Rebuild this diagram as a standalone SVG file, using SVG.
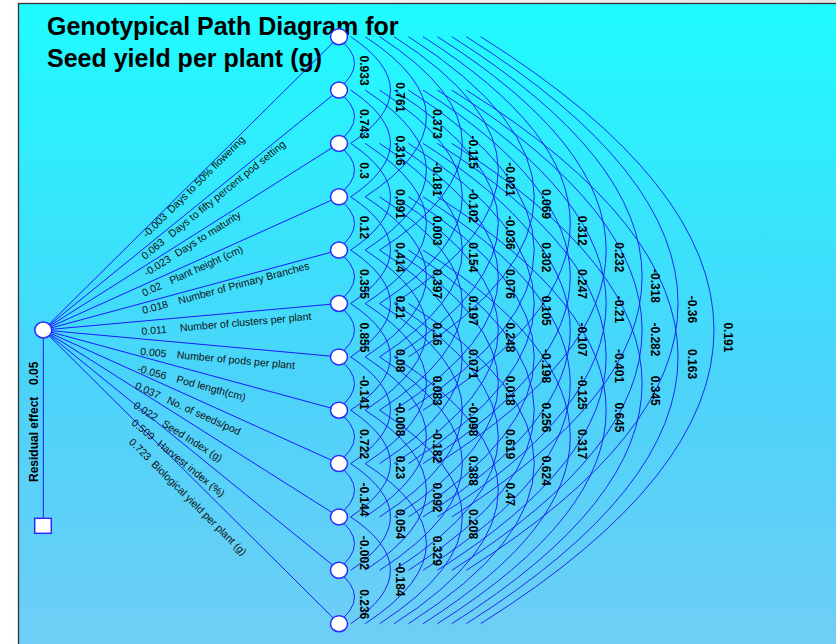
<svg xmlns="http://www.w3.org/2000/svg" width="836" height="644" viewBox="0 0 836 644">
<defs>
<linearGradient id="bg" x1="0" y1="0" x2="0" y2="1">
<stop offset="0" stop-color="#1EFCFF"/>
<stop offset="0.58" stop-color="#4BD3FA"/>
<stop offset="1" stop-color="#70CEF5"/>
</linearGradient>
<linearGradient id="sh" x1="0" y1="0" x2="1" y2="0">
<stop offset="0" stop-color="#ffffff"/>
<stop offset="1" stop-color="#e4e4e4"/>
</linearGradient>
<style>
.ln{fill:none;stroke:#1a1aff;stroke-width:1}
.arc{fill:none;stroke:#1414f0;stroke-width:0.9}
.nd{fill:#fff;stroke:#2a2aff;stroke-width:1.5}
.ttl{font-family:"Liberation Sans",Arial,sans-serif;font-size:25px;font-weight:bold;fill:#000}
.ev{font-family:"Liberation Sans",Arial,sans-serif;font-size:12px;font-weight:bold;fill:#000}
.pl{font-family:"Liberation Sans",Arial,sans-serif;font-size:10.5px;fill:#111}
.res{font-family:"Liberation Sans",Arial,sans-serif;font-size:12px;font-weight:bold;fill:#000}
</style>
</defs>
<rect x="0" y="0" width="836" height="644" fill="url(#sh)"/>
<rect x="18.5" y="3.5" width="830" height="650" fill="url(#bg)" stroke="#333" stroke-width="1.3"/>
<g id="title">
<text class="ttl" x="47" y="35">Genotypical Path Diagram for</text>
<text class="ttl" x="47" y="66.7">Seed yield per plant (g)</text>
</g>
<g id="connectors">
<path class="ln" d="M43.3 330V518"/>
<path class="ln" d="M43.3 330L339 36.7"/>
<path class="ln" d="M43.3 330L339 90.1"/>
<path class="ln" d="M43.3 330L339 143.4"/>
<path class="ln" d="M43.3 330L339 196.8"/>
<path class="ln" d="M43.3 330L339 250.1"/>
<path class="ln" d="M43.3 330L339 303.5"/>
<path class="ln" d="M43.3 330L339 356.9"/>
<path class="ln" d="M43.3 330L339 410.2"/>
<path class="ln" d="M43.3 330L339 463.6"/>
<path class="ln" d="M43.3 330L339 516.9"/>
<path class="ln" d="M43.3 330L339 570.3"/>
<path class="ln" d="M43.3 330L339 623.7"/>
<path class="arc" d="M336.3 36.7Q372.7 63.4 336.3 90.1"/>
<path class="arc" d="M336.3 90.1Q372.7 116.7 336.3 143.4"/>
<path class="arc" d="M336.3 143.4Q372.7 170.1 336.3 196.8"/>
<path class="arc" d="M336.3 196.8Q372.7 223.5 336.3 250.1"/>
<path class="arc" d="M336.3 250.1Q372.7 276.8 336.3 303.5"/>
<path class="arc" d="M336.3 303.5Q372.7 330.2 336.3 356.9"/>
<path class="arc" d="M336.3 356.9Q372.7 383.5 336.3 410.2"/>
<path class="arc" d="M336.3 410.2Q372.7 436.9 336.3 463.6"/>
<path class="arc" d="M336.3 463.6Q372.7 490.3 336.3 516.9"/>
<path class="arc" d="M336.3 516.9Q372.7 543.6 336.3 570.3"/>
<path class="arc" d="M336.3 570.3Q372.7 597 336.3 623.7"/>
<path class="arc" d="M350.7 36.7Q430.2 90.1 350.7 143.4"/>
<path class="arc" d="M350.7 90.1Q430.2 143.4 350.7 196.8"/>
<path class="arc" d="M350.7 143.4Q430.2 196.8 350.7 250.1"/>
<path class="arc" d="M350.7 196.8Q430.2 250.1 350.7 303.5"/>
<path class="arc" d="M350.7 250.1Q430.2 303.5 350.7 356.9"/>
<path class="arc" d="M350.7 303.5Q430.2 356.9 350.7 410.2"/>
<path class="arc" d="M350.7 356.9Q430.2 410.2 350.7 463.6"/>
<path class="arc" d="M350.7 410.2Q430.2 463.6 350.7 516.9"/>
<path class="arc" d="M350.7 463.6Q430.2 516.9 350.7 570.3"/>
<path class="arc" d="M350.7 516.9Q430.2 570.3 350.7 623.7"/>
<path class="arc" d="M365.2 36.7Q487.6 116.7 365.2 196.8"/>
<path class="arc" d="M365.2 90.1Q487.6 170.1 365.2 250.1"/>
<path class="arc" d="M365.2 143.4Q487.6 223.5 365.2 303.5"/>
<path class="arc" d="M365.2 196.8Q487.6 276.8 365.2 356.9"/>
<path class="arc" d="M365.2 250.1Q487.6 330.2 365.2 410.2"/>
<path class="arc" d="M365.2 303.5Q487.6 383.5 365.2 463.6"/>
<path class="arc" d="M365.2 356.9Q487.6 436.9 365.2 516.9"/>
<path class="arc" d="M365.2 410.2Q487.6 490.3 365.2 570.3"/>
<path class="arc" d="M365.2 463.6Q487.6 543.6 365.2 623.7"/>
<path class="arc" d="M379.6 36.7Q545.1 143.4 379.6 250.1"/>
<path class="arc" d="M379.6 90.1Q545.1 196.8 379.6 303.5"/>
<path class="arc" d="M379.6 143.4Q545.1 250.1 379.6 356.9"/>
<path class="arc" d="M379.6 196.8Q545.1 303.5 379.6 410.2"/>
<path class="arc" d="M379.6 250.1Q545.1 356.9 379.6 463.6"/>
<path class="arc" d="M379.6 303.5Q545.1 410.2 379.6 516.9"/>
<path class="arc" d="M379.6 356.9Q545.1 463.6 379.6 570.3"/>
<path class="arc" d="M379.6 410.2Q545.1 516.9 379.6 623.7"/>
<path class="arc" d="M394.1 36.7Q602.5 170.1 394.1 303.5"/>
<path class="arc" d="M394.1 90.1Q602.5 223.5 394.1 356.9"/>
<path class="arc" d="M394.1 143.4Q602.5 276.8 394.1 410.2"/>
<path class="arc" d="M394.1 196.8Q602.5 330.2 394.1 463.6"/>
<path class="arc" d="M394.1 250.1Q602.5 383.5 394.1 516.9"/>
<path class="arc" d="M394.1 303.5Q602.5 436.9 394.1 570.3"/>
<path class="arc" d="M394.1 356.9Q602.5 490.3 394.1 623.7"/>
<path class="arc" d="M408.5 36.7Q660 196.8 408.5 356.9"/>
<path class="arc" d="M408.5 90.1Q660 250.1 408.5 410.2"/>
<path class="arc" d="M408.5 143.4Q660 303.5 408.5 463.6"/>
<path class="arc" d="M408.5 196.8Q660 356.9 408.5 516.9"/>
<path class="arc" d="M408.5 250.1Q660 410.2 408.5 570.3"/>
<path class="arc" d="M408.5 303.5Q660 463.6 408.5 623.7"/>
<path class="arc" d="M423 36.7Q717.5 223.5 423 410.2"/>
<path class="arc" d="M423 90.1Q717.5 276.8 423 463.6"/>
<path class="arc" d="M423 143.4Q717.5 330.2 423 516.9"/>
<path class="arc" d="M423 196.8Q717.5 383.5 423 570.3"/>
<path class="arc" d="M423 250.1Q717.5 436.9 423 623.7"/>
<path class="arc" d="M437.4 36.7Q774.9 250.1 437.4 463.6"/>
<path class="arc" d="M437.4 90.1Q774.9 303.5 437.4 516.9"/>
<path class="arc" d="M437.4 143.4Q774.9 356.9 437.4 570.3"/>
<path class="arc" d="M437.4 196.8Q774.9 410.2 437.4 623.7"/>
<path class="arc" d="M451.8 36.7Q832.4 276.8 451.8 516.9"/>
<path class="arc" d="M451.8 90.1Q832.4 330.2 451.8 570.3"/>
<path class="arc" d="M451.8 143.4Q832.4 383.5 451.8 623.7"/>
<path class="arc" d="M466.3 36.7Q889.8 303.5 466.3 570.3"/>
<path class="arc" d="M466.3 90.1Q889.8 356.9 466.3 623.7"/>
<path class="arc" d="M480.7 36.7Q947.3 330.2 480.7 623.7"/>
</g>
<g id="residual">
<rect x="34.7" y="518.3" width="16.6" height="15" class="nd"/>
<text class="res" transform="translate(38,482) rotate(-90)">Residual effect</text>
<text class="res" transform="translate(38,385) rotate(-90)">0.05</text>
</g>
<g id="node-center"><ellipse class="nd" cx="43.3" cy="330" rx="8.5" ry="8"/></g>
<g id="node-0"><ellipse class="nd" cx="339" cy="36.7" rx="8.5" ry="8"/></g>
<g id="node-1"><ellipse class="nd" cx="339" cy="90.1" rx="8.5" ry="8"/></g>
<g id="node-2"><ellipse class="nd" cx="339" cy="143.4" rx="8.5" ry="8"/></g>
<g id="node-3"><ellipse class="nd" cx="339" cy="196.8" rx="8.5" ry="8"/></g>
<g id="node-4"><ellipse class="nd" cx="339" cy="250.1" rx="8.5" ry="8"/></g>
<g id="node-5"><ellipse class="nd" cx="339" cy="303.5" rx="8.5" ry="8"/></g>
<g id="node-6"><ellipse class="nd" cx="339" cy="356.9" rx="8.5" ry="8"/></g>
<g id="node-7"><ellipse class="nd" cx="339" cy="410.2" rx="8.5" ry="8"/></g>
<g id="node-8"><ellipse class="nd" cx="339" cy="463.6" rx="8.5" ry="8"/></g>
<g id="node-9"><ellipse class="nd" cx="339" cy="516.9" rx="8.5" ry="8"/></g>
<g id="node-10"><ellipse class="nd" cx="339" cy="570.3" rx="8.5" ry="8"/></g>
<g id="node-11"><ellipse class="nd" cx="339" cy="623.7" rx="8.5" ry="8"/></g>
<g id="path-labels" class="pl">
<g transform="translate(146.7,238.3) rotate(-44.77)"><text class="pl">-0.003</text><text class="pl" x="34.8">Days to 50% flowering</text></g>
<g transform="translate(145,260) rotate(-39.06)"><text class="pl">0.063</text><text class="pl" x="34.8">Days to fifty percent pod setting</text></g>
<g transform="translate(146.7,276.7) rotate(-32.25)"><text class="pl">-0.023</text><text class="pl" x="36.5">Days to maturity</text></g>
<g transform="translate(144,296.7) rotate(-24.25)"><text class="pl">0.02</text><text class="pl" x="30.1">Plant height (cm)</text></g>
<g transform="translate(143.3,314) rotate(-15.12)"><text class="pl">0.018</text><text class="pl" x="37.3">Number of Primary Branches</text></g>
<g transform="translate(141.7,335) rotate(-5.12)"><text class="pl">0.011</text><text class="pl" x="38.7">Number of clusters per plant</text></g>
<g transform="translate(140,355) rotate(5.2)"><text class="pl">0.005</text><text class="pl" x="36.7">Number of pods per plant</text></g>
<g transform="translate(136.7,371.7) rotate(15.18)"><text class="pl">-0.056</text><text class="pl" x="40.5">Pod length(cm)</text></g>
<g transform="translate(134.3,388.3) rotate(24.31)"><text class="pl">0.037</text><text class="pl" x="35">No. of seeds/pod</text></g>
<g transform="translate(132.7,407.3) rotate(32.29)"><text class="pl">0.022</text><text class="pl" x="33.9">Seed Index (g)</text></g>
<g transform="translate(130.7,424) rotate(39.1)"><text class="pl">0.509</text><text class="pl" x="33.2">Harvest index (%)</text></g>
<g transform="translate(128.3,442.7) rotate(44.81)"><text class="pl">0.723</text><text class="pl" x="31.8">Biological yield per plant (g)</text></g>
</g>
<g id="edge-labels">
<text class="ev" transform="translate(360,55.6) rotate(90)">0.933</text>
<text class="ev" transform="translate(360,108.9) rotate(90)">0.743</text>
<text class="ev" transform="translate(360,162.3) rotate(90)">0.3</text>
<text class="ev" transform="translate(360,215.7) rotate(90)">0.12</text>
<text class="ev" transform="translate(360,269) rotate(90)">0.355</text>
<text class="ev" transform="translate(360,322.4) rotate(90)">0.855</text>
<text class="ev" transform="translate(360,375.7) rotate(90)">-0.141</text>
<text class="ev" transform="translate(360,429.1) rotate(90)">0.722</text>
<text class="ev" transform="translate(360,482.5) rotate(90)">-0.144</text>
<text class="ev" transform="translate(360,535.8) rotate(90)">-0.002</text>
<text class="ev" transform="translate(360,589.2) rotate(90)">0.236</text>
<text class="ev" transform="translate(396.4,82.3) rotate(90)">0.761</text>
<text class="ev" transform="translate(396.4,135.6) rotate(90)">0.316</text>
<text class="ev" transform="translate(396.4,189) rotate(90)">0.091</text>
<text class="ev" transform="translate(396.4,242.3) rotate(90)">0.414</text>
<text class="ev" transform="translate(396.4,295.7) rotate(90)">0.21</text>
<text class="ev" transform="translate(396.4,349.1) rotate(90)">0.08</text>
<text class="ev" transform="translate(396.4,402.4) rotate(90)">-0.008</text>
<text class="ev" transform="translate(396.4,455.8) rotate(90)">0.23</text>
<text class="ev" transform="translate(396.4,509.1) rotate(90)">0.054</text>
<text class="ev" transform="translate(396.4,562.5) rotate(90)">-0.184</text>
<text class="ev" transform="translate(432.8,108.9) rotate(90)">0.373</text>
<text class="ev" transform="translate(432.8,162.3) rotate(90)">-0.181</text>
<text class="ev" transform="translate(432.8,215.7) rotate(90)">0.003</text>
<text class="ev" transform="translate(432.8,269) rotate(90)">0.397</text>
<text class="ev" transform="translate(432.8,322.4) rotate(90)">0.16</text>
<text class="ev" transform="translate(432.8,375.7) rotate(90)">0.083</text>
<text class="ev" transform="translate(432.8,429.1) rotate(90)">-0.182</text>
<text class="ev" transform="translate(432.8,482.5) rotate(90)">0.092</text>
<text class="ev" transform="translate(432.8,535.8) rotate(90)">0.329</text>
<text class="ev" transform="translate(469.2,135.6) rotate(90)">-0.115</text>
<text class="ev" transform="translate(469.2,189) rotate(90)">-0.102</text>
<text class="ev" transform="translate(469.2,242.3) rotate(90)">0.154</text>
<text class="ev" transform="translate(469.2,295.7) rotate(90)">0.197</text>
<text class="ev" transform="translate(469.2,349.1) rotate(90)">0.071</text>
<text class="ev" transform="translate(469.2,402.4) rotate(90)">-0.098</text>
<text class="ev" transform="translate(469.2,455.8) rotate(90)">0.388</text>
<text class="ev" transform="translate(469.2,509.1) rotate(90)">0.208</text>
<text class="ev" transform="translate(505.6,162.3) rotate(90)">-0.021</text>
<text class="ev" transform="translate(505.6,215.7) rotate(90)">-0.036</text>
<text class="ev" transform="translate(505.6,269) rotate(90)">0.076</text>
<text class="ev" transform="translate(505.6,322.4) rotate(90)">0.248</text>
<text class="ev" transform="translate(505.6,375.7) rotate(90)">0.018</text>
<text class="ev" transform="translate(505.6,429.1) rotate(90)">0.619</text>
<text class="ev" transform="translate(505.6,482.5) rotate(90)">0.47</text>
<text class="ev" transform="translate(542,189) rotate(90)">0.069</text>
<text class="ev" transform="translate(542,242.3) rotate(90)">0.302</text>
<text class="ev" transform="translate(542,295.7) rotate(90)">0.105</text>
<text class="ev" transform="translate(542,349.1) rotate(90)">-0.198</text>
<text class="ev" transform="translate(542,402.4) rotate(90)">0.256</text>
<text class="ev" transform="translate(542,455.8) rotate(90)">0.624</text>
<text class="ev" transform="translate(578.4,215.7) rotate(90)">0.312</text>
<text class="ev" transform="translate(578.4,269) rotate(90)">0.247</text>
<text class="ev" transform="translate(578.4,322.4) rotate(90)">-0.107</text>
<text class="ev" transform="translate(578.4,375.7) rotate(90)">-0.125</text>
<text class="ev" transform="translate(578.4,429.1) rotate(90)">0.317</text>
<text class="ev" transform="translate(614.8,242.3) rotate(90)">0.232</text>
<text class="ev" transform="translate(614.8,295.7) rotate(90)">-0.21</text>
<text class="ev" transform="translate(614.8,349.1) rotate(90)">-0.401</text>
<text class="ev" transform="translate(614.8,402.4) rotate(90)">0.645</text>
<text class="ev" transform="translate(651.2,269) rotate(90)">-0.318</text>
<text class="ev" transform="translate(651.2,322.4) rotate(90)">-0.282</text>
<text class="ev" transform="translate(651.2,375.7) rotate(90)">0.345</text>
<text class="ev" transform="translate(687.6,295.7) rotate(90)">-0.36</text>
<text class="ev" transform="translate(687.6,349.1) rotate(90)">0.163</text>
<text class="ev" transform="translate(724,322.4) rotate(90)">0.191</text>
</g>
</svg>
